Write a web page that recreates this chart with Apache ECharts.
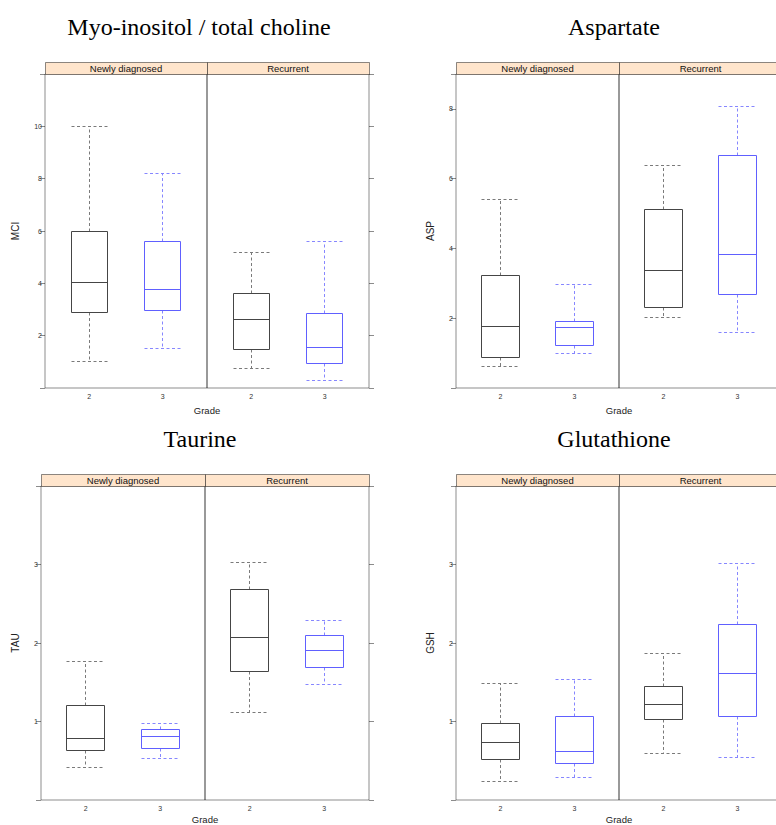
<!DOCTYPE html>
<html>
<head>
<meta charset="utf-8">
<script src="https://cdn.jsdelivr.net/npm/echarts@6/dist/echarts.min.js"></script>
<style>
html,body{margin:0;padding:0;background:#fff;}
#chart{width:776px;height:825px;}
</style>
</head>
<body>
<div id="chart"></div>
<script>
// ---- data ----
const grades = ['2', '3'];
const groups = ['Newly diagnosed', 'Recurrent'];
// five-number summaries per grade: [lower whisker, Q1, median, Q3, upper whisker]
const mciNewly     = [[1.02, 2.88, 4.03, 5.99, 9.99], [1.52, 2.96, 3.76, 5.59, 8.20]];
const mciRecurrent = [[0.73, 1.49, 2.61, 3.62, 5.18], [0.29, 0.92, 1.54, 2.84, 5.59]];
const aspNewly     = [[0.61, 0.86, 1.75, 3.22, 5.39], [0.98, 1.22, 1.73, 1.92, 2.97]];
const aspRecurrent = [[2.01, 2.31, 3.36, 5.12, 6.37], [1.58, 2.67, 3.83, 6.65, 8.06]];
const tauNewly     = [[0.42, 0.63, 0.78, 1.21, 1.76], [0.53, 0.66, 0.81, 0.90, 0.97]];
const tauRecurrent = [[1.11, 1.64, 2.07, 2.68, 3.03], [1.47, 1.69, 1.91, 2.10, 2.29]];
const gshNewly     = [[0.24, 0.52, 0.73, 0.98, 1.48], [0.29, 0.46, 0.62, 1.06, 1.54]];
const gshRecurrent = [[0.59, 1.02, 1.22, 1.44, 1.87], [0.54, 1.06, 1.61, 2.24, 3.01]];
const mciTicks = [2, 4, 6, 8, 10];
const aspTicks = [2, 4, 6, 8];
const tauTicks = [1, 2, 3];
const gshTicks = [1, 2, 3];

// ---- layout / style ----
const charts = [
  {title: 'Myo-inositol / total choline', yName: 'MCI', ticks: mciTicks, yMax: 12, sets: [mciNewly, mciRecurrent],
   left: 45, top: 74, w: 162, h: 314, titleX: 199, yNameX: 15, gradeGap: 22},
  {title: 'Aspartate', yName: 'ASP', ticks: aspTicks, yMax: 9, sets: [aspNewly, aspRecurrent],
   left: 456, top: 74, w: 163, h: 314, titleX: 614, yNameX: 430, gradeGap: 22},
  {title: 'Taurine', yName: 'TAU', ticks: tauTicks, yMax: 4, sets: [tauNewly, tauRecurrent],
   left: 41, top: 486, w: 164, h: 314, titleX: 200, yNameX: 15, gradeGap: 19},
  {title: 'Glutathione', yName: 'GSH', ticks: gshTicks, yMax: 4, sets: [gshNewly, gshRecurrent],
   left: 456, top: 486, w: 163, h: 314, titleX: 614, yNameX: 430, gradeGap: 19}
];
const STRIP_H = 12;
const FRAME = 'rgba(0,0,0,0.45)';
const colors = [
  {box: '#454545', whisk: '#7a7a7a'},
  {box: '#6060ff', whisk: '#8686ff'}
];

const crisp = v => Math.round(v - 0.5) + 0.5;

function renderBox(params, api) {
  const x = api.value(0);
  const lo = api.value(1), q1 = api.value(2), md = api.value(3), q3 = api.value(4), hi = api.value(5);
  const c = colors[api.value(6)];
  const half = api.size([0.5, 0])[0] / 2;
  const cx = crisp(api.coord([x, md])[0]);
  const yv = v => crisp(api.coord([x, v])[1]);
  const yLo = yv(lo), yQ1 = yv(q1), yMd = yv(md), yQ3 = yv(q3), yHi = yv(hi);
  const xl = crisp(cx - half), xr = crisp(cx + half);
  const solid = {stroke: c.box, lineWidth: 1, fill: 'none'};
  const dashed = {stroke: c.whisk, lineWidth: 1, lineDash: [3, 2.5]};
  return {
    type: 'group',
    children: [
      {type: 'line', shape: {x1: cx, y1: yQ3, x2: cx, y2: yHi}, style: dashed},
      {type: 'line', shape: {x1: cx, y1: yQ1, x2: cx, y2: yLo}, style: dashed},
      {type: 'line', shape: {x1: xl, y1: yHi, x2: xr, y2: yHi}, style: dashed},
      {type: 'line', shape: {x1: xl, y1: yLo, x2: xr, y2: yLo}, style: dashed},
      {type: 'rect', shape: {x: xl, y: yQ3, width: xr - xl, height: yQ1 - yQ3}, style: solid},
      {type: 'line', shape: {x1: xl, y1: yMd, x2: xr, y2: yMd}, style: solid}
    ]
  };
}

const grid = [], xAxis = [], yAxis = [], series = [], graphic = [];
charts.forEach((ch) => {
  graphic.push({type: 'text', x: ch.titleX, y: ch.top - 47,
    style: {text: ch.title, font: '24px "Liberation Serif", "Times New Roman", serif', fill: '#000',
            textAlign: 'center', textVerticalAlign: 'middle'}});
  graphic.push({type: 'text', x: ch.yNameX, y: ch.top + ch.h / 2, rotation: Math.PI / 2,
    style: {text: ch.yName, font: '10px "Liberation Sans", Arial, sans-serif', fill: '#222',
            textAlign: 'center', textVerticalAlign: 'middle'}});
  graphic.push({type: 'text', x: ch.left + ch.w, y: ch.top + ch.h + ch.gradeGap,
    style: {text: 'Grade', font: '9.5px "Liberation Sans", Arial, sans-serif', fill: '#222',
            textAlign: 'center', textVerticalAlign: 'middle'}});
  ch.sets.forEach((set, p) => {
    const gi = grid.length;
    const pl = ch.left + p * ch.w;
    grid.push({left: pl, top: ch.top, width: ch.w, height: ch.h, show: true,
      borderColor: FRAME, borderWidth: 1, backgroundColor: 'transparent', outerBoundsMode: 'none'});
    graphic.push({type: 'rect', z: 100,
      shape: {x: crisp(pl), y: crisp(ch.top - STRIP_H), width: ch.w, height: STRIP_H},
      style: {fill: '#ffe5cc', stroke: FRAME, lineWidth: 1}});
    graphic.push({type: 'text', z: 101, x: pl + ch.w / 2, y: ch.top - STRIP_H / 2,
      style: {text: groups[p], font: '9.5px "Liberation Sans", Arial, sans-serif', fill: '#111',
              textAlign: 'center', textVerticalAlign: 'middle'}});
    xAxis.push({gridIndex: gi, type: 'value', min: 0.4, max: 2.6,
      axisLine: {show: false}, axisTick: {show: false}, splitLine: {show: false},
      axisLabel: {customValues: [1, 2], formatter: v => grades[Math.round(v) - 1],
                  fontSize: 7, color: '#333', margin: 5, fontFamily: 'Liberation Sans'}});
    yAxis.push({gridIndex: gi, type: 'value', min: 0, max: ch.yMax, position: p === 0 ? 'left' : 'right',
      axisLine: {show: false}, splitLine: {show: false},
      axisTick: {show: true, length: 5, customValues: [0].concat(ch.ticks, [ch.yMax]),
                 lineStyle: {color: FRAME, width: 1}},
      axisLabel: {show: p === 0, customValues: ch.ticks, fontSize: 7, color: '#333', margin: 3,
                  fontFamily: 'Liberation Sans'}});
    series.push({type: 'custom', name: ch.yName + ' ' + groups[p], xAxisIndex: gi, yAxisIndex: gi,
      renderItem: renderBox, clip: false,
      encode: {x: 0, y: [1, 2, 3, 4, 5]},
      data: set.map((s, k) => [k + 1].concat(s, [k]))});
  });
});

const chart = echarts.init(document.getElementById('chart'), null, {renderer: 'svg'});
chart.setOption({
  animation: false,
  backgroundColor: '#fff',
  grid, xAxis, yAxis, series, graphic
});
</script>
</body>
</html>
